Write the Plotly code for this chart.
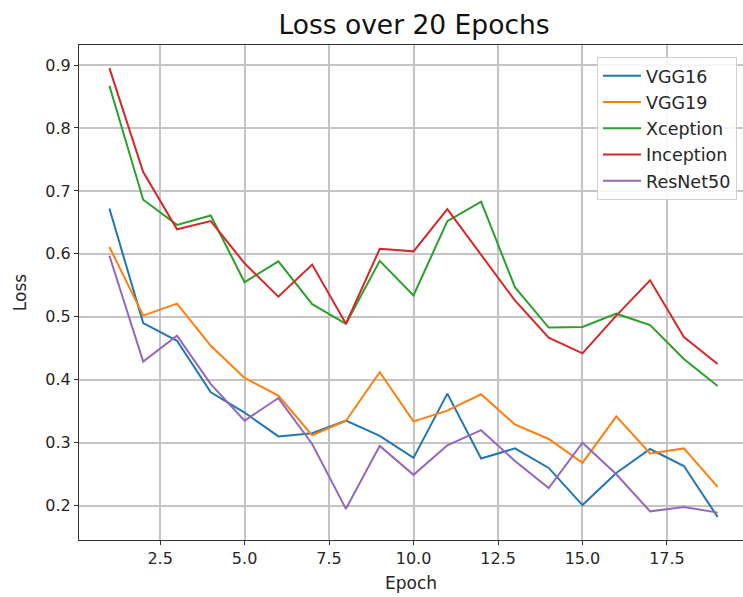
import plotly.graph_objects as go

epochs = list(range(1, 20))
vgg16 = [0.672, 0.490, 0.462, 0.380, 0.348, 0.310, 0.315, 0.335, 0.311, 0.276, 0.378, 0.275, 0.291, 0.260, 0.201, 0.252, 0.290, 0.263, 0.182]
vgg19 = [0.611, 0.502, 0.521, 0.454, 0.403, 0.375, 0.312, 0.335, 0.412, 0.334, 0.351, 0.377, 0.329, 0.306, 0.268, 0.342, 0.283, 0.291, 0.230]
xception = [0.867, 0.686, 0.646, 0.661, 0.555, 0.588, 0.520, 0.489, 0.589, 0.534, 0.652, 0.683, 0.547, 0.483, 0.484, 0.505, 0.487, 0.433, 0.390]
inception = [0.895, 0.730, 0.639, 0.652, 0.585, 0.532, 0.583, 0.489, 0.608, 0.604, 0.671, 0.598, 0.526, 0.467, 0.442, 0.502, 0.558, 0.468, 0.425]
resnet50 = [0.597, 0.429, 0.470, 0.393, 0.335, 0.371, 0.298, 0.195, 0.295, 0.249, 0.296, 0.320, 0.271, 0.228, 0.300, 0.250, 0.191, 0.198, 0.189]

series = [("VGG16", vgg16, "#1f77b4"), ("VGG19", vgg19, "#ff7f0e"),
          ("Xception", xception, "#2ca02c"), ("Inception", inception, "#d62728"),
          ("ResNet50", resnet50, "#9467bd")]

fig = go.Figure()
for name, vals, col in series:
    fig.add_trace(go.Scatter(x=epochs, y=vals, mode="lines", name=name, legendgroup=name,
                             line=dict(color=col, width=2)))

font = "DejaVu Sans"
fig.update_layout(
    width=743, height=597,
    margin=dict(l=79, r=0, t=45, b=57),
    paper_bgcolor="white", plot_bgcolor="white",
    font=dict(family=font, size=16, color="#262626"),
    title=dict(text="Loss over 20 Epochs", x=414 / 743, xanchor="center", y=1 - 25 / 597, yanchor="middle",
               font=dict(size=26.5, family=font, color="#111")),
    legend=dict(x=0.991, xanchor="right", y=0.976, yanchor="top",
                bgcolor="rgba(255,255,255,0.85)", bordercolor="#d0d0d0", borderwidth=1,
                font=dict(size=17.5, family=font), tracegroupgap=0.5, itemwidth=38),
    showlegend=True,
)
fig.update_xaxes(range=[0.1, 19.75], tick0=0, dtick=2.5, tickformat=".1f",
                 showgrid=True, gridcolor="#c4c4c4", gridwidth=1.5,
                 showline=True, linecolor="#333", linewidth=1.2, mirror=True,
                 ticks="outside", ticklen=4, tickcolor="#333", zeroline=False,
                 title=dict(text="Epoch", font=dict(size=17, family=font), standoff=9))
fig.update_yaxes(range=[0.1455, 0.9318], tick0=0, dtick=0.1, tickformat=".1f",
                 showgrid=True, gridcolor="#c4c4c4", gridwidth=1.5,
                 showline=True, linecolor="#333", linewidth=1.2,
                 ticks="outside", ticklen=4, tickcolor="#333", zeroline=False,
                 title=dict(text="Loss", font=dict(size=17, family=font), standoff=14))

fig.write_html("out.html")
